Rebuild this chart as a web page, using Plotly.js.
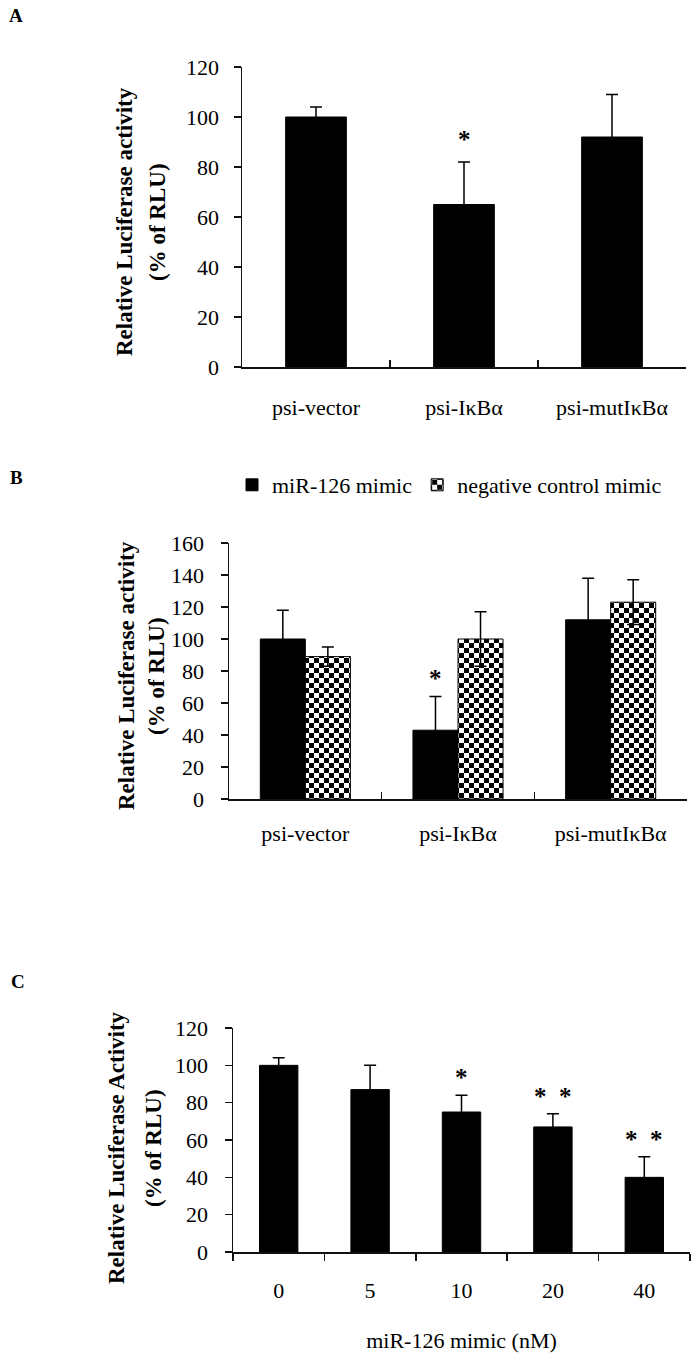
<!DOCTYPE html>
<html><head><meta charset="utf-8">
<script src="https://cdn.plot.ly/plotly-3.0.1.min.js"></script>
<style>body{margin:0;background:#fff}</style>
</head><body>
<div id="chart" style="width:696px;height:1355px"></div>
<script>
// ---------- data ----------
const catsA = ['psi-vector', 'psi-IκBα', 'psi-mutIκBα'];
const valsA = [100, 65, 92];
const errA  = [4, 17, 17];
const sigA  = ['', '*', ''];
const ticksA = [0, 20, 40, 60, 80, 100, 120];

const catsB = ['psi-vector', 'psi-IκBα', 'psi-mutIκBα'];
const namesB = ['miR-126 mimic', 'negative control mimic'];
const valsBmiR = [100, 43, 112];
const errBmiR  = [18, 21, 26];
const valsBnc  = [89, 100, 123];
const errBnc   = [6, 17, 14];
const sigB  = ['', '*', ''];
const ticksB = [0, 20, 40, 60, 80, 100, 120, 140, 160];

const catsC = ['0', '5', '10', '20', '40'];
const valsC = [100, 87, 75, 67, 40];
const errC  = [4, 13, 9, 7, 11];
const sigC  = ['', '', '*', '*&nbsp;&nbsp;*', '*&nbsp;&nbsp;*'];
const ticksC = [0, 20, 40, 60, 80, 100, 120];

// ---------- layout helpers ----------
const W = 696, H = 1355;
const px = v => v / W;
const py = v => 1 - v / H;
const FONT = "'Liberation Serif', 'Times New Roman', serif";
const BW = 0.295;

const errStyle = arr => ({type: 'data', array: arr, symmetric: true, visible: true, color: '#000', thickness: 1.5, width: 6});

const traces = [
  {type: 'bar', x: catsA, y: valsA, error_y: errStyle(errA), xaxis: 'x', yaxis: 'y',
   width: 0.41, marker: {color: '#000', line: {color: '#000', width: 1}}, showlegend: false, hoverinfo: 'skip'},
  {type: 'bar', name: namesB[0], x: catsB, y: valsBmiR, error_y: errStyle(errBmiR), xaxis: 'x2', yaxis: 'y2',
   width: BW, offset: -BW, marker: {color: '#000', line: {color: '#000', width: 1}}, showlegend: true, hoverinfo: 'skip'},
  {type: 'bar', name: namesB[1], x: catsB, y: valsBnc, error_y: errStyle(errBnc), xaxis: 'x2', yaxis: 'y2',
   width: BW, offset: 0,
   marker: {color: '#fff', line: {color: '#000', width: 1},
            pattern: {shape: '+', fgcolor: '#000', bgcolor: '#fff', size: 8, solidity: 0.4, fillmode: 'replace'}},
   showlegend: true, hoverinfo: 'skip'},
  {type: 'bar', x: catsC, y: valsC, error_y: errStyle(errC), xaxis: 'x3', yaxis: 'y3',
   width: 0.42, marker: {color: '#000', line: {color: '#000', width: 1}}, showlegend: false, hoverinfo: 'skip'}
];

function xAxis(dom, anchor, ticksDir, standoff) {
  return {domain: dom, anchor: anchor, type: 'category', showline: true, linecolor: '#111', linewidth: 1.5,
          ticks: ticksDir, tickson: 'boundaries', ticklen: 7, tickwidth: 1.5, tickcolor: '#111',
          showgrid: false, zeroline: false, automargin: false, fixedrange: true,
          tickfont: {family: FONT, size: 22, color: '#000'}, ticklabelstandoff: standoff};
}
function yAxis(dom, anchor, rng, tv, standoff) {
  return {domain: dom, anchor: anchor, range: rng, tickvals: tv, ticktext: tv.map(String),
          showline: true, linecolor: '#111', linewidth: 1.5, ticks: 'outside', ticklen: 7, tickwidth: 1.5,
          tickcolor: '#111', showgrid: false, zeroline: false, automargin: false, fixedrange: true,
          tickfont: {family: FONT, size: 22, color: '#000'}, ticklabelstandoff: standoff};
}

const annotations = [];
const letter = (t, x, y) => annotations.push({xref: 'paper', yref: 'paper', x: px(x), y: py(y), text: '<b>' + t + '</b>',
  showarrow: false, xanchor: 'left', yanchor: 'middle', font: {family: FONT, size: 19, color: '#000'}});
letter('A', 7, 16); letter('B', 8, 477); letter('C', 9, 982);

const ytitle = (t, x, y) => annotations.push({xref: 'paper', yref: 'paper', x: px(x), y: py(y),
  text: '<b>' + t + '</b>', textangle: -90, showarrow: false, xanchor: 'center', yanchor: 'middle',
  font: {family: FONT, size: 23, color: '#000'}});
ytitle('Relative Luciferase activity', 124, 222);
ytitle('(% of RLU)', 157, 222);
ytitle('Relative Luciferase activity', 126, 676);
ytitle('(% of RLU)', 156, 676);
ytitle('Relative Luciferase Activity', 116, 1148);
ytitle('(% of RLU)', 153, 1148);

const star = (xa, ya, x, y, shift) => ({xref: xa, yref: ya, x: x, y: y, showarrow: false, yanchor: 'bottom', yshift: shift,
  font: {family: FONT, size: 25, color: '#000'}});
sigA.forEach((s, i) => { if (s) annotations.push(Object.assign(star('x', 'y', i, valsA[i] + errA[i], 7), {text: '<b>' + s + '</b>'})); });
sigB.forEach((s, i) => { if (s) annotations.push(Object.assign(star('x2', 'y2', i - BW / 2, valsBmiR[i] + errBmiR[i], 3), {text: '<b>' + s + '</b>'})); });
sigC.forEach((s, i) => { if (s) annotations.push(Object.assign(star('x3', 'y3', i, valsC[i] + errC[i], 2), {text: '<b>' + s + '</b>'})); });

const layout = {
  width: W, height: H, autosize: false,
  margin: {l: 0, r: 0, t: 0, b: 0},
  paper_bgcolor: '#fff', plot_bgcolor: '#fff',
  font: {family: FONT, color: '#000'},
  barmode: 'group',
  xaxis: xAxis([px(242), px(686)], 'y', 'inside', 20),
  yaxis: yAxis([py(367), py(67)], 'x', [0, 120], ticksA, 10),
  xaxis2: xAxis([px(229), px(687)], 'y2', 'inside', 14),
  yaxis2: yAxis([py(799), py(543)], 'x2', [0, 160], ticksB, 12),
  xaxis3: Object.assign(xAxis([px(233), px(690)], 'y3', 'outside', 18),
          {title: {text: 'miR-126 mimic (nM)', font: {family: FONT, size: 22, color: '#000'}, standoff: 30}}),
  yaxis3: yAxis([py(1252), py(1028)], 'x3', [0, 120], ticksC, 12),
  showlegend: true,
  legend: {orientation: 'h', x: px(232), y: py(485), xanchor: 'left', yanchor: 'middle',
           font: {family: FONT, size: 22, color: '#000'}, bgcolor: 'rgba(0,0,0,0)', itemwidth: 30, tracegroupgap: 0},
  annotations: annotations
};

Plotly.newPlot('chart', traces, layout, {displayModeBar: false, staticPlot: true}).then(gd => {
  // replace the built-in pattern with a true checkerboard fill
  const svg = gd.querySelector('svg.main-svg');
  let defs = svg.querySelector('defs');
  const NS = 'http://www.w3.org/2000/svg';
  const pat = document.createElementNS(NS, 'pattern');
  pat.setAttribute('id', 'checkerB');
  pat.setAttribute('patternUnits', 'userSpaceOnUse');
  pat.setAttribute('width', '10'); pat.setAttribute('height', '10');
  const mk = (x, y, w, h, f) => { const r = document.createElementNS(NS, 'rect');
    r.setAttribute('x', x); r.setAttribute('y', y); r.setAttribute('width', w); r.setAttribute('height', h);
    r.setAttribute('fill', f); pat.appendChild(r); };
  mk(0, 0, 10, 10, '#fff'); mk(0, 0, 5, 5, '#000'); mk(5, 5, 5, 5, '#000');
  defs.appendChild(pat);
  gd.querySelectorAll('path').forEach(p => {
    const f = p.style.fill || p.getAttribute('fill') || '';
    if (f.indexOf('url(') >= 0) p.style.fill = 'url(#checkerB)';
  });
});
</script>
</body></html>
